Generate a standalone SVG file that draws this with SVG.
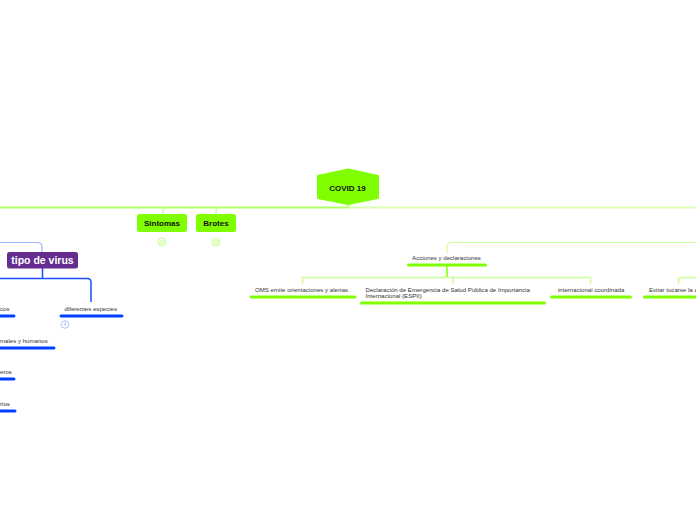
<svg xmlns="http://www.w3.org/2000/svg" width="696" height="520" viewBox="0 0 696 520">
<style>
.t{font-family:"Liberation Sans",Arial,sans-serif;font-size:6.1px;fill:#333}
.b{font-family:"Liberation Sans",Arial,sans-serif;font-weight:bold;fill:#111;text-anchor:middle}
.lg{fill:none;stroke:#ccff99;stroke-width:1.5}
.bl{fill:none;stroke:#1a4dff;stroke-width:1.5}
.ug{stroke:#80ff00;stroke-width:3;stroke-linecap:round}
.ub{stroke:#0040ff;stroke-width:3;stroke-linecap:round}
.badge{fill:#fff;stroke-width:0.8}
</style>
<rect width="696" height="520" fill="#fff"/>
<g id="connectors">
<path d="M0 207.5 H348" stroke="#b3ff66" stroke-width="2" fill="none"/>
<path d="M348 207.5 H696" stroke="#d9ffb3" stroke-width="2" fill="none"/>
<path d="M348.5 203 V207.5" stroke="#b3ff66" stroke-width="1.5"/>
<path class="lg" d="M163 214 V211 Q163 208 166 208"/>
<path class="lg" d="M216 214 V211 Q216 208 219 208"/>
<path d="M0 242.5 H37 Q42 242.5 42 247.5 V252" fill="none" stroke="#99b3ff" stroke-width="1.2"/>
<path class="bl" d="M42.5 268 V278.5"/>
<path class="bl" d="M0 278.5 H87 Q91 278.5 91 282.5 V302"/>
<path d="M696 242.5 H452 Q447 242.5 447 247.5 V253" fill="none" stroke="#ccff99" stroke-width="1.2"/>
<path d="M447 265 V277.5" stroke="#80ff00" stroke-width="1.5"/>
<path class="lg" d="M302.5 284 V277.5 H590.5 V284"/>
<path class="lg" d="M453 277.5 V284"/>
<path class="lg" d="M696 277.5 H681 Q678.5 277.5 678.5 280 V284"/>
</g>
<g id="covid19">
<path d="M318 176 L348 169.5 L378 176 V198 L348 204 L318 198 Z" fill="#80ff00" stroke="#80ff00" stroke-linejoin="round" stroke-width="2"/>
<text class="b" x="347.5" y="190.5" font-size="8">COVID 19</text>
</g>
<g id="sintomas">
<rect x="137" y="214" width="50" height="18" rx="2.5" fill="#80ff00"/>
<text class="b" x="162" y="225.8" font-size="8">Sintomas</text>
<circle class="badge" cx="162" cy="242" r="4" stroke="#b3ff66"/>
<text x="162" y="244" font-family="Liberation Sans,sans-serif" font-size="5" fill="#b3ff66" text-anchor="middle">16</text>
</g>
<g id="brotes">
<rect x="196" y="214" width="40" height="18" rx="2.5" fill="#80ff00"/>
<text class="b" x="216" y="225.8" font-size="8">Brotes</text>
<circle class="badge" cx="216" cy="242" r="4" stroke="#b3ff66"/>
<text x="216" y="244" font-family="Liberation Sans,sans-serif" font-size="5" fill="#b3ff66" text-anchor="middle">13</text>
</g>
<g id="tipo-de-virus">
<rect x="7" y="252" width="71" height="16.5" rx="2.5" fill="#662d91"/>
<text x="42.5" y="264" font-family="Liberation Sans,Arial,sans-serif" font-weight="bold" font-size="10.5" fill="#fff" text-anchor="middle">tipo de virus</text>
</g>
<g id="cos">
<text class="t" x="0" y="311">cos</text>
<line class="ub" x1="0" y1="316" x2="14" y2="316"/>
</g>
<g id="diferentes-especies">
<text class="t" x="64.5" y="311">diferentes especies</text>
<line class="ub" x1="61" y1="316" x2="122" y2="316"/>
<circle class="badge" cx="65" cy="324.5" r="3.8" stroke="#99b3ff"/>
<text x="65" y="326.3" font-family="Liberation Sans,sans-serif" font-size="5" fill="#99b3ff" text-anchor="middle">4</text>
</g>
<g id="animales-humanos">
<text class="t" x="0" y="342.5">males y humanos</text>
<line class="ub" x1="0" y1="348" x2="54" y2="348"/>
</g>
<g id="eros">
<text class="t" x="0" y="373.5">eros</text>
<line class="ub" x1="0" y1="379" x2="14" y2="379"/>
</g>
<g id="rios">
<text class="t" x="0" y="405.5">rios</text>
<line class="ub" x1="0" y1="411" x2="15" y2="411"/>
</g>
<g id="acciones">
<text class="t" x="446.5" y="259.5" text-anchor="middle">Acciones y declaraciones</text>
<line class="ug" x1="408.5" y1="265" x2="485.5" y2="265"/>
</g>
<g id="oms">
<text class="t" x="255" y="291.5">OMS emite orientaciones y alertas</text>
<line class="ug" x1="251" y1="297" x2="355" y2="297"/>
</g>
<g id="espii">
<text class="t" x="365.5" y="291.5">Declaración de Emergencia de Salud Pública de Importancia</text>
<text class="t" x="365.5" y="298">Internacional (ESPII)</text>
<line class="ug" x1="361.5" y1="303" x2="544.5" y2="303"/>
</g>
<g id="internacional">
<text class="t" x="558" y="291.5">internacional coordinada</text>
<line class="ug" x1="551.5" y1="297" x2="630.5" y2="297"/>
</g>
<g id="evitar">
<text class="t" x="649" y="291.5">Evitar tocarse la cara</text>
<line class="ug" x1="644.5" y1="297" x2="700" y2="297"/>
</g>
</svg>
